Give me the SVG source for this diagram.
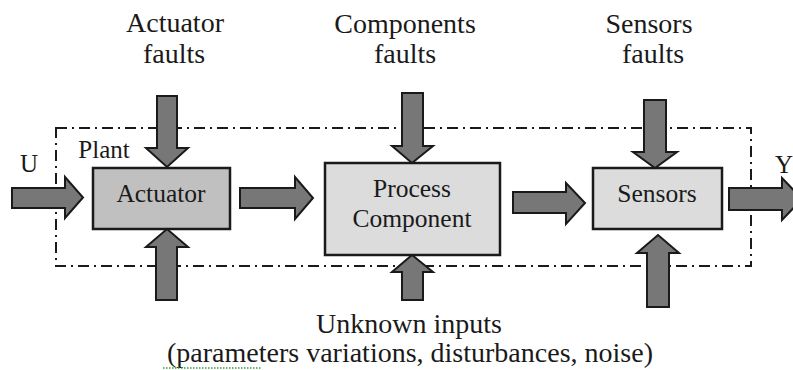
<svg xmlns="http://www.w3.org/2000/svg" width="793" height="370" viewBox="0 0 793 370">
<rect width="793" height="370" fill="#fff"/>
<g id="plant">
<rect x="56" y="128" width="695" height="138" fill="none" stroke="#1a1a1a" stroke-width="2" stroke-dasharray="11 5 2 5"/>
<text font-family="Times New Roman" fill="#1a1a1a" text-anchor="middle" x="104" y="158" font-size="25">Plant</text>
</g>
<g id="labels" fill="#1a1a1a" text-anchor="middle" font-size="28">
<text font-family="Times New Roman" x="175" y="32">Actuator</text>
<text font-family="Times New Roman" x="174" y="63">faults</text>
<text font-family="Times New Roman" x="405" y="33">Components</text>
<text font-family="Times New Roman" x="405" y="63">faults</text>
<text font-family="Times New Roman" x="649" y="33">Sensors</text>
<text font-family="Times New Roman" x="653" y="63">faults</text>
<text font-family="Times New Roman" x="29" y="172" font-size="25">U</text>
<text font-family="Times New Roman" x="793" y="173" font-size="25" text-anchor="end">Y</text>
<text font-family="Times New Roman" x="409" y="333">Unknown inputs</text>
<text font-family="Times New Roman" x="410" y="362">(parameters variations, disturbances, noise)</text>
<path d="M163 368 H262" stroke="#3a9a3a" stroke-width="1.5" stroke-dasharray="1.5 1.5" fill="none"/>
</g>
<g id="actuator">
<rect x="93" y="168" width="137" height="61" fill="#c0c0c0" stroke="#1a1a1a" stroke-width="2.5"/>
<text font-family="Times New Roman" fill="#1a1a1a" text-anchor="middle" font-size="25.5" x="161" y="202">Actuator</text>
</g>
<g id="process">
<rect x="325" y="163" width="175" height="92" fill="#dcdcdc" stroke="#1a1a1a" stroke-width="2.5"/>
<text font-family="Times New Roman" fill="#1a1a1a" text-anchor="middle" font-size="25.5" x="412" y="197">Process</text>
<text font-family="Times New Roman" fill="#1a1a1a" text-anchor="middle" font-size="25.5" x="412" y="227">Component</text>
</g>
<g id="sensors">
<rect x="593" y="168" width="129" height="61" fill="#dcdcdc" stroke="#1a1a1a" stroke-width="2.5"/>
<text font-family="Times New Roman" fill="#1a1a1a" text-anchor="middle" font-size="25.5" x="657" y="202">Sensors</text>
</g>
<g id="connectors" fill="#777" stroke="#1a1a1a" stroke-width="2">
<path d="M12 188 H65 V177 L83 197.5 L65 218 V208 H12 Z"/>
<path d="M240 188 H295 V177 L313 198 L295 219 V208 H240 Z"/>
<path d="M513 192 H566 V183 L585 203 L566 224 V213 H513 Z"/>
<path d="M729 188 H782 V178 L802 199 L782 220 V210 H729 Z"/>
<path d="M157 96 H177 V148 H188 L167 167 L146 148 H157 Z"/>
<path d="M402 93 H423 V146 H433 L412 163 L392 146 H402 Z"/>
<path d="M644 100 H666 V152 H677 L655 168 L633 152 H644 Z"/>
<path d="M156 300 H177 V247 H188 L167 229 L146 247 H156 Z"/>
<path d="M402 300 H423 V272 H433 L412 255 L392 272 H402 Z"/>
<path d="M647 307 H669 V253 H679 L658 235 L637 253 H647 Z"/>
</g>
</svg>
